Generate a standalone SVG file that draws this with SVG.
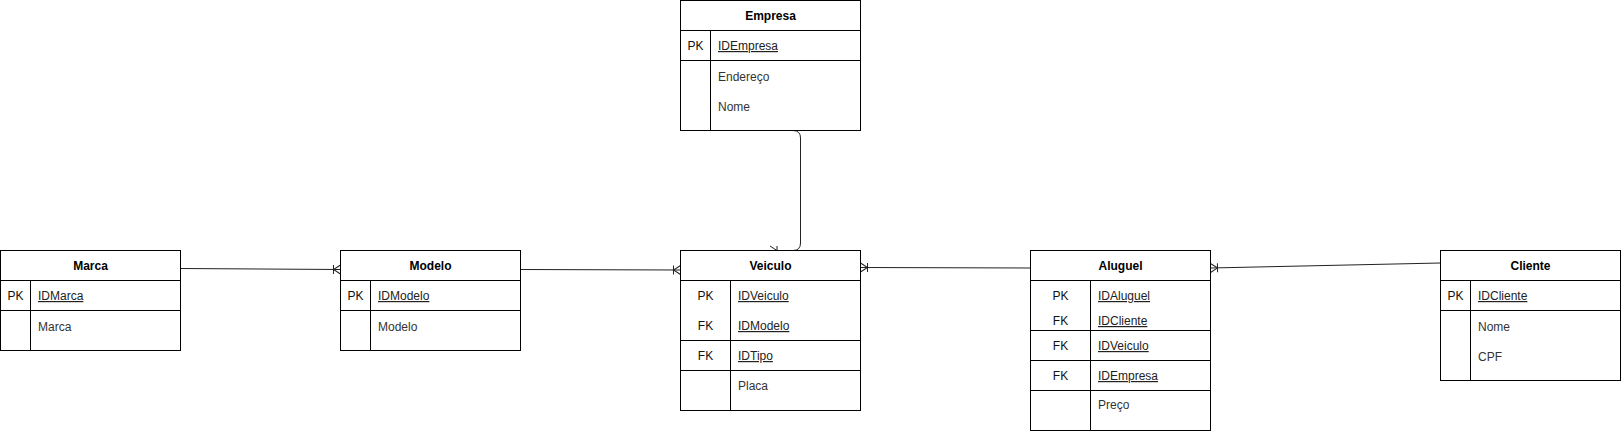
<svg xmlns="http://www.w3.org/2000/svg" width="1621" height="431" viewBox="0 0 1621 431">
<style>
  .box{fill:#fff;stroke:#000;stroke-width:1}
  .ln{stroke:#000;stroke-width:1;fill:none}
  text{font-family:"Liberation Sans",Arial,sans-serif;font-size:12px}
  .hd{font-weight:bold;fill:#000;text-anchor:middle}
  .key{fill:#111;text-anchor:middle}
  .id{fill:#222;text-decoration:underline}
  .at{fill:#333}
  .edge{stroke:#222;stroke-width:1;fill:none;marker-end:url(#oneMany)}
</style>
<defs>
  <marker id="oneMany" markerUnits="userSpaceOnUse" viewBox="-10 -6 12 12" refX="0" refY="0" markerWidth="12" markerHeight="12" orient="auto" overflow="visible">
    <path d="M0,-4.5 L-7,0 L0,4.5 M-7,-4.5 L-7,4.5" fill="none" stroke="#222" stroke-width="1"/>
  </marker>
</defs>
<rect width="1621" height="431" fill="#fff"/>

<g id="connectors">
  <path class="edge" d="M180.5,268.5 L340.5,269.5"/>
  <path class="edge" d="M520.5,269.5 L680.5,270"/>
  <path class="edge" d="M793,130.5 Q800.5,130.5 800.5,138 L800.5,243 Q800.5,250.5 793,250.5 L770,250.5"/>
  <path class="edge" d="M1030.5,268 L860.5,267.5"/>
  <path class="edge" d="M1440.5,263 L1210.5,268"/>
</g>

<g id="marca">
  <rect class="box" x="0.5" y="250.5" width="180" height="100"/>
  <path class="ln" d="M0.5,280.5 H180.5 M0.5,310.5 H180.5 M30.5,280.5 V350.5"/>
  <text class="hd" x="90.5" y="270">Marca</text>
  <text class="key" x="15.5" y="300">PK</text>
  <text class="id" x="38" y="300">IDMarca</text>
  <text class="at" x="38" y="331">Marca</text>
</g>

<g id="modelo">
  <rect class="box" x="340.5" y="250.5" width="180" height="100"/>
  <path class="ln" d="M340.5,280.5 H520.5 M340.5,310.5 H520.5 M370.5,280.5 V350.5"/>
  <text class="hd" x="430.5" y="270">Modelo</text>
  <text class="key" x="355.5" y="300">PK</text>
  <text class="id" x="378" y="300">IDModelo</text>
  <text class="at" x="378" y="331">Modelo</text>
</g>

<g id="empresa">
  <rect class="box" x="680.5" y="0.5" width="180" height="130"/>
  <path class="ln" d="M680.5,30.5 H860.5 M680.5,60.5 H860.5 M710.5,30.5 V130.5"/>
  <text class="hd" x="770.5" y="20">Empresa</text>
  <text class="key" x="695.5" y="50">PK</text>
  <text class="id" x="718" y="50">IDEmpresa</text>
  <text class="at" x="718" y="81">Endereço</text>
  <text class="at" x="718" y="111">Nome</text>
</g>

<g id="veiculo">
  <rect class="box" x="680.5" y="250.5" width="180" height="160"/>
  <path class="ln" d="M680.5,280.5 H860.5 M680.5,340.5 H860.5 M680.5,370.5 H860.5 M730.5,280.5 V410.5"/>
  <text class="hd" x="770.5" y="270">Veiculo</text>
  <text class="key" x="705.5" y="300">PK</text>
  <text class="id" x="738" y="300">IDVeiculo</text>
  <text class="key" x="705.5" y="330">FK</text>
  <text class="id" x="738" y="330">IDModelo</text>
  <text class="key" x="705.5" y="360">FK</text>
  <text class="id" x="738" y="360">IDTipo</text>
  <text class="at" x="738" y="390">Placa</text>
</g>

<g id="aluguel">
  <rect class="box" x="1030.5" y="250.5" width="180" height="180"/>
  <path class="ln" d="M1030.5,280.5 H1210.5 M1030.5,330.5 H1210.5 M1030.5,360.5 H1210.5 M1030.5,390.5 H1210.5 M1090.5,280.5 V430.5"/>
  <text class="hd" x="1120.5" y="270">Aluguel</text>
  <text class="key" x="1060.5" y="300">PK</text>
  <text class="id" x="1098" y="300">IDAluguel</text>
  <text class="key" x="1060.5" y="325">FK</text>
  <text class="id" x="1098" y="325">IDCliente</text>
  <text class="key" x="1060.5" y="350">FK</text>
  <text class="id" x="1098" y="350">IDVeiculo</text>
  <text class="key" x="1060.5" y="380">FK</text>
  <text class="id" x="1098" y="380">IDEmpresa</text>
  <text class="at" x="1098" y="409">Preço</text>
</g>

<g id="cliente">
  <rect class="box" x="1440.5" y="250.5" width="180" height="130"/>
  <path class="ln" d="M1440.5,280.5 H1620.5 M1440.5,310.5 H1620.5 M1470.5,280.5 V380.5"/>
  <text class="hd" x="1530.5" y="270">Cliente</text>
  <text class="key" x="1455.5" y="300">PK</text>
  <text class="id" x="1478" y="300">IDCliente</text>
  <text class="at" x="1478" y="331">Nome</text>
  <text class="at" x="1478" y="361">CPF</text>
</g>
</svg>
